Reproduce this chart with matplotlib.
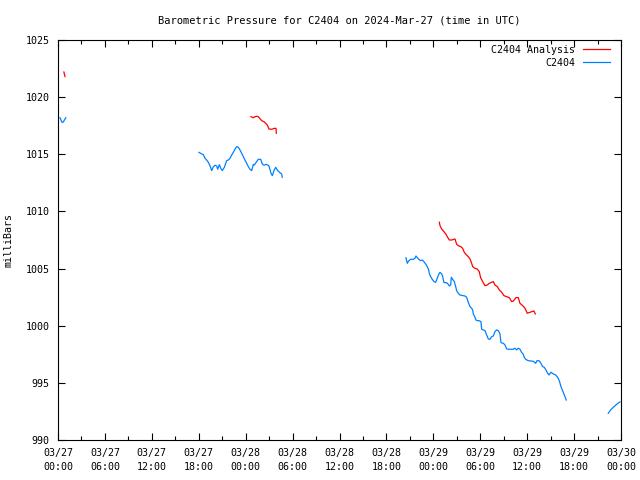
import datetime as dt
import matplotlib
matplotlib.use('Agg')
import matplotlib.pyplot as plt
import matplotlib.dates as mdates

plt.rcParams['font.family'] = 'DejaVu Sans Mono'
plt.rcParams['font.size'] = 7.2

# hours since 2024-03-27 00:00 UTC, pressure in mb
# station C2404 observations (three gaps -> four pieces)
obs_hours = [
    [0.25, 0.5, 0.65, 1.0],
    [18.03, 18.37, 18.58, 18.80, 19.01, 19.22, 19.44, 19.65, 19.86, 20.08, 20.29, 20.42,
     20.63, 20.84, 21.01, 21.27, 21.57, 21.78, 22.0, 22.21, 22.42, 22.63, 22.85, 23.06,
     23.27, 23.49, 23.70, 23.91, 24.13, 24.34, 24.55, 24.77, 24.98, 25.1, 25.4, 25.62,
     25.92, 26.13, 26.34, 26.60, 26.81, 26.98, 27.24, 27.41, 27.66, 27.84, 28.1, 28.39,
     28.6, 28.68],
    [44.50, 44.67, 44.85, 45.10, 45.44, 45.65, 45.78, 45.95, 46.16, 46.38, 46.59, 46.80,
     47.02, 47.23, 47.40, 47.48, 47.66, 47.86, 48.08, 48.30, 48.50, 48.72, 48.85, 49.07,
     49.2, 49.36, 49.7, 49.91, 50.04, 50.22, 50.30, 50.47, 50.68, 50.86, 50.98, 51.19,
     51.41, 51.83, 52.05, 52.26, 52.39, 52.52, 52.69, 52.90, 53.03, 53.11, 53.32, 53.45,
     53.62, 53.87, 54.09, 54.18, 54.6, 54.82, 55.03, 55.24, 55.46, 55.67, 55.88, 56.1,
     56.31, 56.52, 56.65, 56.95, 57.16, 57.38, 57.58, 58.22, 58.44, 58.66, 58.86, 59.08,
     59.29, 59.50, 59.63, 59.81, 60.14, 60.78, 61.09, 61.25, 61.51, 61.76, 61.98, 62.19,
     62.40, 62.62, 62.79, 63.04, 63.34, 63.65, 63.9, 64.11, 64.32, 64.49, 64.67, 64.83,
     65.0],
    [70.37, 70.68, 71.01, 71.36, 71.65, 71.87],
]
obs_mb = [
    [1018.2, 1017.8, 1017.8, 1018.2],
    [1015.17, 1015.03, 1014.97, 1014.65, 1014.5, 1014.3, 1014.0, 1013.57, 1013.9, 1014.04,
     1013.98, 1013.69, 1014.09, 1013.74, 1013.57, 1013.86, 1014.44, 1014.5, 1014.65,
     1014.94, 1015.17, 1015.44, 1015.67, 1015.61, 1015.38, 1015.09, 1014.8, 1014.5,
     1014.21, 1013.92, 1013.69, 1013.57, 1014.12, 1014.06, 1014.35, 1014.56, 1014.56,
     1014.15, 1014.04, 1014.12, 1014.06, 1013.98, 1013.34, 1013.13, 1013.63, 1013.86,
     1013.57, 1013.39, 1013.28, 1012.99],
    [1005.95, 1005.46, 1005.67, 1005.81, 1005.81, 1005.9, 1006.1, 1005.95, 1005.81,
     1005.69, 1005.75, 1005.6, 1005.4, 1005.17, 1004.88, 1004.59, 1004.29, 1004.06,
     1003.86, 1003.8, 1004.15, 1004.53, 1004.67, 1004.53, 1004.29, 1003.77, 1003.77,
     1003.62, 1003.48, 1003.56, 1004.24, 1004.06, 1003.86, 1003.42, 1003.07, 1002.84,
     1002.69, 1002.63, 1002.6, 1002.49, 1002.2, 1001.96, 1001.67, 1001.53, 1001.38,
     1001.03, 1000.74, 1000.5, 1000.44, 1000.44, 1000.35, 999.69, 999.57, 999.19,
     998.84, 998.81, 999.04, 999.1, 999.48, 999.63, 999.57, 999.28, 998.52, 998.46,
     998.32, 997.97, 997.94, 997.94, 998.03, 997.88, 998.03, 997.94, 997.67, 997.5,
     997.24, 997.06, 996.94, 996.89, 996.71, 996.94, 996.94, 996.71, 996.42, 996.36,
     996.13, 995.84, 995.69, 995.93, 995.78, 995.69, 995.49, 995.19, 994.67, 994.38,
     994.09, 993.8, 993.5],
    [992.34, 992.63, 992.86, 993.07, 993.24, 993.33],
]

# analysis values
ana_hours = [
    [0.75, 0.9],
    [24.68, 24.98, 25.19, 25.45, 25.62, 25.83, 26.05, 26.34, 26.56, 26.77, 26.98, 27.24,
     27.46, 27.66, 27.88, 27.92],
    [48.77, 48.85, 49.07, 49.36, 49.62, 49.78, 50.04, 50.35, 50.77, 50.98, 51.19, 51.5,
     51.75, 51.96, 52.17, 52.47, 52.69, 52.9, 53.03, 53.32, 53.62, 53.87, 54.05, 54.31,
     54.6, 54.9, 55.15, 55.46, 55.67, 55.88, 56.18, 56.43, 56.74, 57.03, 57.38, 57.71,
     58.02, 58.22, 58.44, 58.57, 58.86, 59.08, 59.42, 59.72, 60.01, 60.27, 60.58, 60.87,
     61.04],
]
ana_mb = [
    [1022.2, 1021.8],
    [1018.29, 1018.2, 1018.29, 1018.32, 1018.29, 1018.12, 1017.94, 1017.85, 1017.71,
     1017.56, 1017.21, 1017.19, 1017.21, 1017.27, 1017.27, 1016.84],
    [1009.05, 1008.76, 1008.46, 1008.23, 1008.0, 1007.79, 1007.5, 1007.5, 1007.59,
     1007.13, 1007.0, 1006.92, 1006.77, 1006.42, 1006.25, 1006.04, 1005.84, 1005.46,
     1005.17, 1005.02, 1004.96, 1004.73, 1004.2, 1003.86, 1003.51, 1003.56, 1003.71,
     1003.8, 1003.86, 1003.56, 1003.42, 1003.13, 1002.93, 1002.63, 1002.54, 1002.46,
     1002.11, 1002.16, 1002.34, 1002.46, 1002.46, 1001.96, 1001.76, 1001.53, 1001.09,
     1001.15, 1001.23, 1001.29, 1001.03],
]

start = dt.datetime(2024, 3, 27)
def to_time(hrs):
    return [start + dt.timedelta(hours=h) for h in hrs]

fig = plt.figure(figsize=(6.4, 4.8), dpi=100)
ax = fig.add_axes([58/640, 40/480, 563/640, 400/480])

for i, (h, p) in enumerate(zip(ana_hours, ana_mb)):
    ax.plot(to_time(h), p, color='#ff0000', lw=0.9, label='C2404 Analysis' if i == 0 else None)
for i, (h, p) in enumerate(zip(obs_hours, obs_mb)):
    ax.plot(to_time(h), p, color='#0080ff', lw=0.9, label='C2404' if i == 0 else None)

ax.set_xlim(start, start + dt.timedelta(hours=72))
ax.set_ylim(990, 1025)
ax.set_yticks(range(990, 1026, 5))
ax.xaxis.set_major_locator(mdates.HourLocator(byhour=range(0, 24, 6)))
ax.xaxis.set_minor_locator(mdates.HourLocator(byhour=range(0, 24, 3)))
ax.xaxis.set_major_formatter(mdates.DateFormatter('%m/%d\n%H:%M'))
for lbl in ax.get_xticklabels():
    lbl.set_linespacing(1.4)

ax.tick_params(which='both', direction='in', top=True, right=True, colors='black')
ax.tick_params(which='major', length=5, width=0.8, pad=6)
ax.tick_params(which='minor', length=3, width=0.8)
for s in ax.spines.values():
    s.set_linewidth(0.8)

ax.set_ylabel('milliBars', labelpad=9)
ax.set_title('Barometric Pressure for C2404 on 2024-Mar-27 (time in UTC)', pad=12,
             fontsize=7.5)

ax.legend(loc='upper right', bbox_to_anchor=(1 - 11/563, 1 - 5/400), frameon=False,
          markerfirst=False, handlelength=2.7, borderaxespad=0, borderpad=0,
          labelspacing=0.3, handletextpad=0.8)

fig.savefig('out.png', dpi=100)
